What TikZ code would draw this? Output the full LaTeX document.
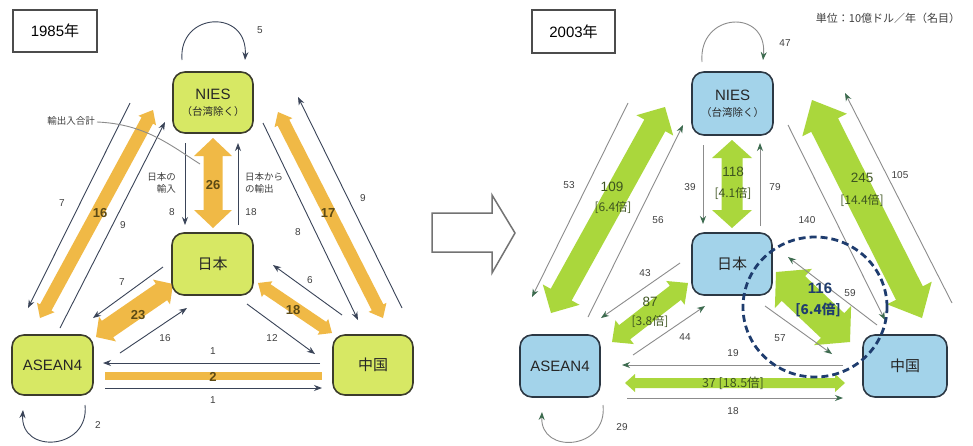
\documentclass[tikz,border=0pt]{standalone}
\usepackage{fontspec}
\setmainfont{Liberation Sans}
\newfontfamily\jpf{Noto Sans CJK JP}
\usetikzlibrary{calc,arrows.meta}
\definecolor{lnfill}{HTML}{D7E864}
\definecolor{lnborder}{HTML}{3C3C2C}
\definecolor{rnfill}{HTML}{A3D3EA}
\definecolor{rnborder}{HTML}{2C3844}
\definecolor{lorange}{HTML}{F0B946}
\definecolor{rgreen}{HTML}{AAD73C}
\definecolor{lline}{HTML}{3A4458}
\definecolor{rline}{HTML}{8C8C8C}
\definecolor{rhead}{HTML}{3D6B4F}
\definecolor{lbrown}{HTML}{5C4A14}
\definecolor{gdark}{HTML}{3D5420}
\definecolor{navy}{HTML}{1E3C6E}
\definecolor{labgray}{HTML}{404040}
\newcommand{\dblarr}[6]{%
  \coordinate (dA) at #1;
  \coordinate (dB) at #2;
  \coordinate (hA) at ($(dA)!#5!(dB)$);
  \coordinate (hB) at ($(dB)!#5!(dA)$);
  \fill[#6] (dA) -- ($(hA)!#4!90:(dB)$) -- ($(hA)!#3!90:(dB)$)
    -- ($(hB)!#3!-90:(dA)$) -- ($(hB)!#4!-90:(dA)$) -- (dB)
    -- ($(hB)!#4!90:(dA)$) -- ($(hB)!#3!90:(dA)$)
    -- ($(hA)!#3!-90:(dB)$) -- ($(hA)!#4!-90:(dB)$) -- cycle;}
\tikzset{
  lbox/.style={draw=lnborder, line width=1.6pt, rounded corners=12pt, fill=lnfill, align=center, inner sep=2pt, font=\fontsize{15}{17}\selectfont, text=black!85},
  rbox/.style={draw=rnborder, line width=1.6pt, rounded corners=12pt, fill=rnfill, align=center, inner sep=2pt, font=\fontsize{15}{17}\selectfont, text=black!85},
  yearbox/.style={draw=black!70, line width=1.6pt, font=\fontsize{15}{17}\selectfont},
  lthin/.style={draw=lline, line width=0.9pt, -{Stealth[length=8pt,width=6pt]}},
  rthin/.style={draw=rline, line width=0.9pt, -{Stealth[length=8pt,width=6pt,color=rhead]}},
  lab/.style={font=\fontsize{10}{11}\selectfont, text=labgray, inner sep=1pt},
  jlab/.style={font=\jpf\fontsize{9.5}{11.5}\selectfont, text=labgray, inner sep=1pt},
  blab/.style={font=\bfseries\fontsize{13}{14}\selectfont, text=lbrown, inner sep=1pt},
  gnum/.style={font=\fontsize{13.5}{14}\selectfont, text=gdark, inner sep=1pt},
  gbr/.style={font=\jpf\fontsize{12}{13}\selectfont, text=gdark, inner sep=1pt},
  hollow/.style={draw=black!55, line width=1.5pt, line join=miter}
}
\begin{document}
\begin{tikzpicture}[x=1pt,y=-1pt]
\useasboundingbox (0,0) rectangle (973,445);
\fill[white] (0,0) rectangle (973,445);

% ---------- headers ----------
\node[yearbox, minimum width=84pt, minimum height=42pt] (y85) at (55,31) {1985{\jpf 年}};
\node[yearbox, minimum width=83pt, minimum height=43pt] (y03) at (573.5,31.5) {2003{\jpf 年}};
\node[font=\jpf\fontsize{11}{13}\selectfont, text=black!75] (unit) at (888,18) {単位：10億ドル／年（名目）};

% ---------- big hollow arrow ----------
\draw[hollow] (432,213) -- (492,213) -- (492,195) -- (515,233) -- (492,273) -- (492,252) -- (432,252) -- cycle;

% ================= LEFT PANEL (1985) =================
\dblarr{(213,138)}{(213,228)}{9.5pt}{19pt}{18pt}{lorange}
\dblarr{(40,318)}{(153,110)}{6.5pt}{10pt}{12pt}{lorange}
\dblarr{(278,112)}{(383,318)}{6.5pt}{10pt}{12pt}{lorange}
\dblarr{(96,337)}{(173,284)}{10pt}{15pt}{14pt}{lorange}
\dblarr{(258,283)}{(332,333)}{6pt}{9.5pt}{11pt}{lorange}
\fill[lorange] (105,371.5) rectangle (322,379.5);

\coordinate (a1) at (185,143); \coordinate (a2) at (185,225);
\draw[lthin] (a1) -- (a2);
\coordinate (a3) at (238,225); \coordinate (a4) at (238,143);
\draw[lthin] (a3) -- (a4);
\draw[lthin] (130,103) -- (28,308);
\draw[lthin] (60,328) -- (165,122);
\draw[lthin] (263,123) -- (358,320);
\draw[lthin] (402,308) -- (298,97);
\draw[lthin] (163,267) -- (93,318);
\draw[lthin] (120,353) -- (187,308);
\draw[lthin] (342,315) -- (273,265);
\draw[lthin] (247,304) -- (315,354);
\draw[lthin] (320,363) -- (103,363);
\draw[lthin] (105,388) -- (322,388);
% loops
\draw[lthin] (182,60) .. controls (178,12) and (248,8) .. (245,60);
\draw[lthin] (85,405) .. controls (90,450) and (20,455) .. (23,410);
% callout
\draw[draw=black!45, line width=0.9pt] (97,122) .. controls (145,124) and (170,145) .. (200,164);
\node[jlab, anchor=east] (callout) at (96,121) {輸出入合計};

% nodes
\node[lbox, minimum width=80pt, minimum height=61pt] (nies85) at (213,102.5) {NIES\\[-1pt]{\jpf\fontsize{10.5}{12}\selectfont （台湾除く）}};
\node[lbox, minimum width=81pt, minimum height=62pt] (jp85) at (212.5,264) {\jpf 日本};
\node[lbox, minimum width=81pt, minimum height=60pt] (as85) at (52.5,365) {ASEAN4};
\node[lbox, minimum width=80pt, minimum height=60pt] (cn85) at (373,365) {\jpf 中国};

% labels
\node[lab] at (260,30) {5};
\node[jlab, anchor=east, align=right] at (177,183) {日本の\\輸入};
\node[jlab, anchor=west, align=left] at (244,183) {日本から\\の輸出};
\node[lab] at (172,212) {8};
\node[lab] at (251,212) {18};
\node[blab] at (213,185) {26};
\node[lab] at (62,203) {7};
\node[blab] at (100,213) {16};
\node[lab] at (123,225) {9};
\node[blab] at (328,213) {17};
\node[lab] at (298,232) {8};
\node[lab] at (363,198) {9};
\node[lab] at (122,282) {7};
\node[blab] at (138,315) {23};
\node[lab] at (165,338) {16};
\node[lab] at (310,280) {6};
\node[blab] at (293,310) {18};
\node[lab] at (272,338) {12};
\node[lab] at (213,351) {1};
\node[blab] at (213,377) {2};
\node[lab] at (213,400) {1};
\node[lab] at (98,425) {2};

% ================= RIGHT PANEL (2003) =================
\dblarr{(732,140)}{(732,228)}{10.5pt}{20pt}{18pt}{rgreen}
\dblarr{(551,313)}{(665,107)}{12pt}{21pt}{21pt}{rgreen}
\dblarr{(812,100)}{(922,318)}{15pt}{25pt}{28pt}{rgreen}
\dblarr{(612,342)}{(688,283)}{9pt}{15pt}{16pt}{rgreen}
\dblarr{(776,272)}{(850,342)}{17pt}{27pt}{24pt}{rgreen}
\dblarr{(625,383)}{(845,383)}{5pt}{9pt}{10pt}{rgreen}

\draw[rthin] (628,103) -- (532,297);
\draw[rthin] (588,317) -- (683,125);
\draw[rthin] (703,145) -- (703,224);
\draw[rthin] (760,226) -- (760,143);
\draw[rthin] (788,125) -- (885,320);
\draw[rthin] (952,303) -- (845,93);
\draw[rthin] (680,263) -- (601,318);
\draw[rthin] (633,355) -- (705,306);
\draw[rthin] (877,325) -- (788,257);
\draw[rthin] (765,306) -- (832,354);
\draw[rthin] (843,365) -- (622,365);
\draw[rthin] (627,398) -- (843,398);
% loops
\draw[rthin] (702,62) .. controls (698,12) and (768,8) .. (763,60);
\draw[rthin] (603,405) .. controls (608,450) and (540,455) .. (542,412);

% nodes
\node[rbox, minimum width=81pt, minimum height=63pt] (nies03) at (732.5,103.5) {NIES\\[-1pt]{\jpf\fontsize{10.5}{12}\selectfont （台湾除く）}};
\node[rbox, minimum width=80pt, minimum height=62pt] (jp03) at (732,264) {\jpf 日本};
\node[rbox, minimum width=80pt, minimum height=62pt] (as03) at (560,366) {ASEAN4};
\node[rbox, minimum width=84pt, minimum height=62pt] (cn03) at (905,366) {\jpf 中国};

% labels
\node[lab] at (785,43) {47};
\node[lab] at (690,187) {39};
\node[lab] at (775,187) {79};
\node[gnum] at (733,172) {118};
\node[gbr] at (733,193) {[4.1倍]};
\node[lab] at (569,185) {53};
\node[gnum] at (612,187) {109};
\node[gbr] at (613,207) {[6.4倍]};
\node[lab] at (658,220) {56};
\node[lab] at (807,220) {140};
\node[gnum] at (862,178) {245};
\node[gbr] at (862,200) {[14.4倍]};
\node[lab] at (900,175) {105};
\node[lab] at (645,273) {43};
\node[gnum] at (650,302) {87};
\node[gbr] at (650,321) {[3.8倍]};
\node[lab] at (685,337) {44};
\node[font=\bfseries\fontsize{15}{16}\selectfont, text=navy, inner sep=1pt] at (820,288) {116};
\node[font=\jpf\bfseries\fontsize{13.5}{14}\selectfont, text=navy, inner sep=1pt] at (818,310) {[6.4倍]};
\node[lab] at (850,293) {59};
\node[lab] at (780,338) {57};
\node[lab] at (733,353) {19};
\node[font=\jpf\fontsize{12.5}{13}\selectfont, text=gdark, inner sep=1pt] at (733,383) {37 [18.5倍]};
\node[lab] at (733,411) {18};
\node[lab] at (622,427) {29};

% dashed circle
\draw[navy, line width=2.8pt, dash pattern=on 7pt off 4pt] (815,307) ellipse [x radius=72pt, y radius=70pt];
\end{tikzpicture}
\end{document}
